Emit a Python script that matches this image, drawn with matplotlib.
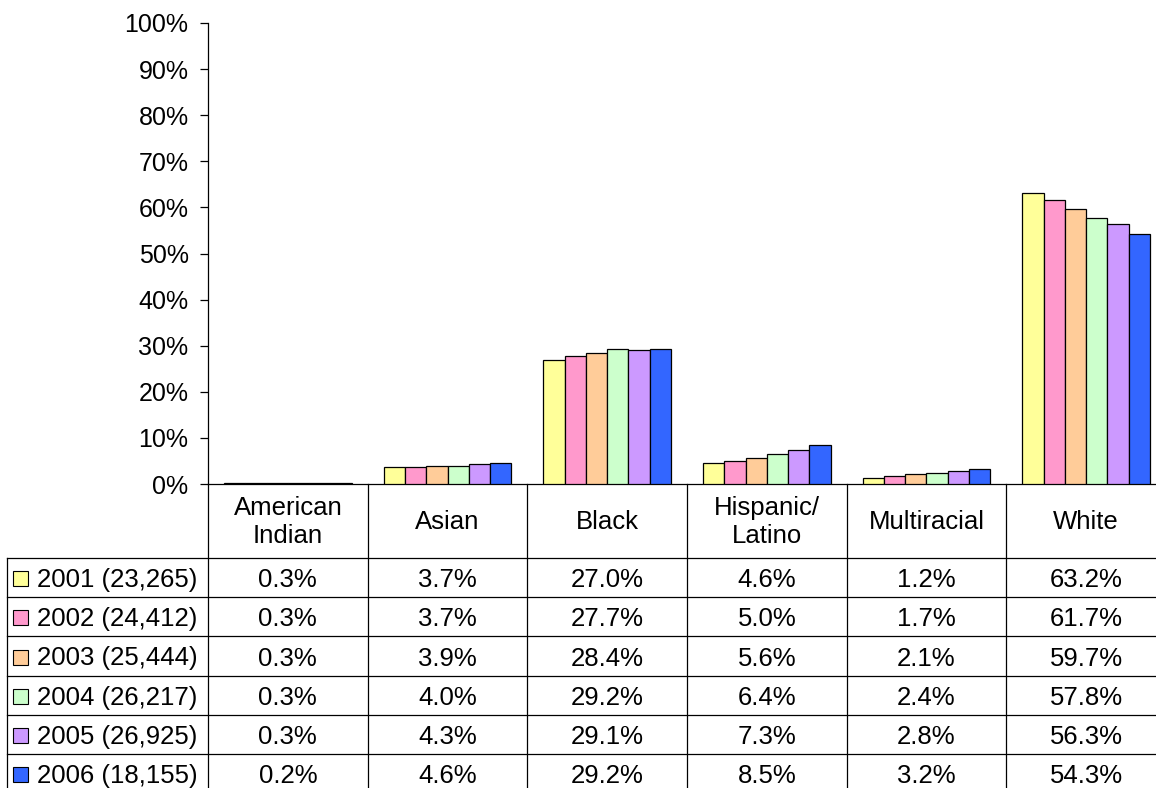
import numpy as np
import matplotlib
matplotlib.use("Agg")
import matplotlib.pyplot as plt
from matplotlib.patches import Rectangle

plt.rcParams['font.family'] = ['Liberation Sans', 'DejaVu Sans']

# data
categories = ['American\nIndian', 'Asian', 'Black', 'Hispanic/\nLatino', 'Multiracial', 'White']
series_labels = ['2001 (23,265)', '2002 (24,412)', '2003 (25,444)',
                 '2004 (26,217)', '2005 (26,925)', '2006 (18,155)']
v2001 = [0.3, 3.7, 27.0, 4.6, 1.2, 63.2]
v2002 = [0.3, 3.7, 27.7, 5.0, 1.7, 61.7]
v2003 = [0.3, 3.9, 28.4, 5.6, 2.1, 59.7]
v2004 = [0.3, 4.0, 29.2, 6.4, 2.4, 57.8]
v2005 = [0.3, 4.3, 29.1, 7.3, 2.8, 56.3]
v2006 = [0.2, 4.6, 29.2, 8.5, 3.2, 54.3]
series = [v2001, v2002, v2003, v2004, v2005, v2006]
colors = ['#FFFF99', '#FF99CC', '#FFCC99', '#CCFFCC', '#CC99FF', '#3366FF']

W, H = 1156, 788
fig = plt.figure(figsize=(W / 100, H / 100), dpi=100)

# plot area in pixels (right column runs past the image edge)
x0, x1 = 208, 1166
y_top, y_base = 23, 484
ax = fig.add_axes([x0 / W, (H - y_base) / H, (x1 - x0) / W, (y_base - y_top) / H])

n = len(series)
bw = 0.8 / n
x = np.arange(len(categories))
for i, vals in enumerate(series):
    ax.bar(x - 0.4 + bw * (i + 0.5), np.array(vals) / 100, width=bw,
           color=colors[i], edgecolor='black', linewidth=0.9, zorder=3)

ax.set_xlim(-0.5, len(categories) - 0.5)
ax.set_ylim(0, 1)
ax.set_yticks(np.arange(0, 1.01, 0.1))
ax.set_yticklabels([f'{int(round(t * 100))}%' for t in np.arange(0, 1.01, 0.1)], fontsize=18)
ax.set_xticks([])
ax.tick_params(axis='y', direction='out', length=6, width=0.9, pad=8)
for s in ['top', 'right']:
    ax.spines[s].set_visible(False)
ax.spines['left'].set_linewidth(0.9)
ax.spines['bottom'].set_linewidth(0.9)

# data table below the plot
header_h = 74
row_h = 39.2
tab_h = header_h + row_h * n
tax = fig.add_axes([x0 / W, (H - y_base - tab_h) / H, (x1 - x0) / W, tab_h / H])
tax.set_xlim(-0.5, len(categories) - 0.5)
tax.set_ylim(tab_h, 0)
tax.axis('off')

col_px = (x1 - x0) / len(categories)
left_edge = -0.5 - (x0 - 7) / col_px
lw = 0.9
kw = dict(color='black', linewidth=lw, clip_on=False)

# vertical lines
tax.plot([-0.5, -0.5], [-0.0, tab_h], **kw)
for j in range(1, len(categories) + 1):
    tax.plot([j - 0.5, j - 0.5], [0, tab_h], **kw)
tax.plot([left_edge, left_edge], [header_h, tab_h], **kw)
# horizontal lines
for i in range(n + 1):
    yy = header_h + i * row_h
    tax.plot([left_edge, len(categories) - 0.5], [yy, yy], **kw)

# header texts
for j, c in enumerate(categories):
    tax.text(j, header_h / 2 + 1, c, ha='center', va='center', fontsize=18.5,
             linespacing=1.25)

# rows
sw = 15 / col_px
for i, vals in enumerate(series):
    yc = header_h + (i + 0.5) * row_h
    sx = left_edge + 6 / col_px
    tax.add_patch(Rectangle((sx, yc - 7.5 + 1), sw, 15, facecolor=colors[i],
                            edgecolor='black', linewidth=0.8, clip_on=False))
    tax.text(left_edge + 30 / col_px, yc + 2.5, series_labels[i], ha='left', va='center',
             fontsize=18.5)
    for j, v in enumerate(vals):
        tax.text(j, yc + 2.5, f'{v:.1f}%', ha='center', va='center', fontsize=18.5)

fig.savefig('out.png', dpi=100)
